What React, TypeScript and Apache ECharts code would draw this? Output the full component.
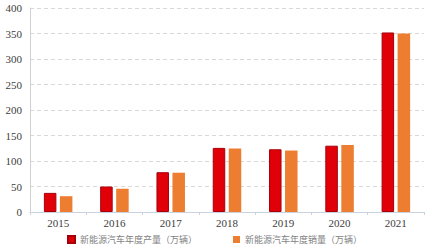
import React, { useEffect, useRef } from "react";
import * as echarts from "echarts";

const categories = ["2015", "2016", "2017", "2018", "2019", "2020", "2021"];
const production = [37.5, 50, 78, 125.7, 123, 130, 352];
const sales = [31, 45.5, 77, 124.5, 120.5, 131.5, 350];
const seriesNames = ["新能源汽车年度产量（万辆）", "新能源汽车年度销量（万辆）"];
const yTicks = { min: 0, max: 400, interval: 50 };

export default function App() {
  const ref = useRef<HTMLDivElement>(null);
  useEffect(() => {
    if (!ref.current) return;
    const chart = echarts.init(ref.current, null, { renderer: "svg" });
    chart.setOption({
      animation: false,
      backgroundColor: "#ffffff",
      grid: { left: 30, right: 3, top: 8, bottom: 35, containLabel: false },
      legend: {
        top: 235,
        left: 67,
        padding: 0,
        width: 360,
        orient: "horizontal",
        itemWidth: 7,
        itemHeight: 7,
        itemGap: 36,
        icon: "rect",
        textStyle: { color: "#7f7f7f", fontSize: 9, fontFamily: "Noto Sans CJK SC" },
        data: seriesNames,
      },
      xAxis: {
        type: "category",
        data: categories,
        axisLine: { show: true, lineStyle: { color: "#c9d3e0", width: 1 } },
        axisTick: { show: true, length: 3, lineStyle: { color: "#c9d3e0" } },
        axisLabel: { color: "#404040", fontSize: 11, fontFamily: "Liberation Serif", margin: 5 },
      },
      yAxis: {
        type: "value",
        min: yTicks.min,
        max: yTicks.max,
        interval: yTicks.interval,
        axisLine: { show: true, lineStyle: { color: "#d0d0d0" } },
        axisTick: { show: false },
        axisLabel: { color: "#404040", fontSize: 11, fontFamily: "Liberation Serif", margin: 8 },
        splitLine: { show: true, lineStyle: { color: "#d9d9d9", type: [4, 3] } },
      },
      series: [
        {
          name: seriesNames[0],
          type: "bar",
          data: production,
          barWidth: 12.5,
          barGap: "28%",
          itemStyle: { color: "#e20008", borderColor: "#a5000a", borderWidth: 1 },
        },
        {
          name: seriesNames[1],
          type: "bar",
          data: sales,
          barWidth: 12.5,
          itemStyle: { color: "#ed7d31" },
        },
      ],
    });
    return () => chart.dispose();
  }, []);
  return <div ref={ref} style={{ width: 427, height: 247, position: "absolute", left: 0, top: 0 }} />;
}
